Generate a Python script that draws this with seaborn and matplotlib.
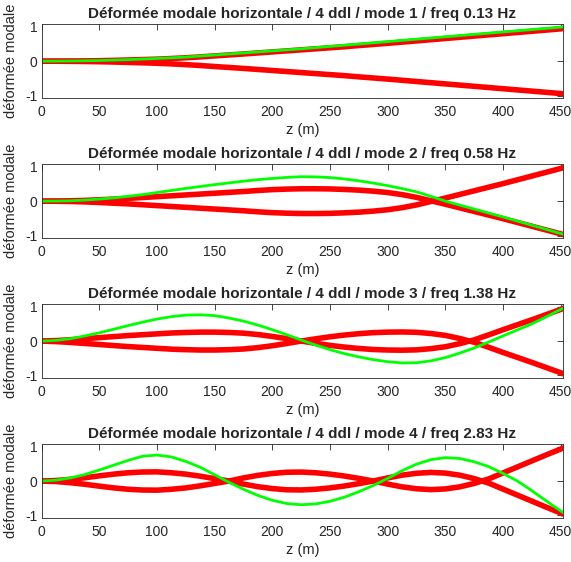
import numpy as np
import pandas as pd
import seaborn as sns
import matplotlib.pyplot as plt

# Déformées modales (z en m, pas de 12.5 m)
z = [0, 12.5, 25, 37.5, 50, 62.5, 75, 87.5, 100, 112.5, 125, 137.5, 150, 162.5, 175, 187.5,
     200, 212.5, 225, 237.5, 250, 262.5, 275, 287.5, 300, 312.5, 325, 337.5, 350, 362.5,
     375, 387.5, 400, 412.5, 425, 437.5, 450, 452]

freqs = ['0.13', '0.58', '1.38', '2.83']

# mode 1
green1 = [0, 0.002, 0.006, 0.012, 0.02, 0.032, 0.045, 0.062, 0.08, 0.10, 0.12, 0.15, 0.18, 0.21,
          0.24, 0.27, 0.30, 0.33, 0.36, 0.395, 0.43, 0.465, 0.50, 0.535, 0.57, 0.605, 0.64, 0.675,
          0.71, 0.745, 0.78, 0.815, 0.85, 0.885, 0.92, 0.955, 0.99, 1.0]
red1_up = [0, 0.001, 0.004, 0.009, 0.015, 0.024, 0.035, 0.047, 0.06, 0.078, 0.10, 0.125, 0.155,
           0.182, 0.21, 0.24, 0.27, 0.30, 0.33, 0.36, 0.39, 0.42, 0.455, 0.487, 0.52, 0.555, 0.59,
           0.625, 0.66, 0.695, 0.73, 0.765, 0.80, 0.835, 0.87, 0.905, 0.94, 0.95]
red1_dn = [0, -0.001, -0.004, -0.009, -0.015, -0.024, -0.035, -0.047, -0.06, -0.078, -0.10, -0.125,
           -0.155, -0.182, -0.21, -0.24, -0.27, -0.30, -0.33, -0.36, -0.39, -0.42, -0.455, -0.487,
           -0.52, -0.555, -0.59, -0.625, -0.66, -0.695, -0.73, -0.765, -0.80, -0.835, -0.87,
           -0.905, -0.94, -0.95]

# mode 2
green2 = [0, 0.002, 0.01, 0.03, 0.06, 0.095, 0.14, 0.19, 0.25, 0.31, 0.37, 0.425, 0.48, 0.53,
          0.58, 0.625, 0.66, 0.69, 0.71, 0.705, 0.685, 0.645, 0.59, 0.525, 0.45, 0.365, 0.27,
          0.14, 0.0, -0.115, -0.23, -0.345, -0.46, -0.58, -0.70, -0.82, -0.94, -0.96]
red2_a = [0, -0.003, -0.01, -0.022, -0.04, -0.06, -0.08, -0.105, -0.13, -0.155, -0.18, -0.205,
          -0.23, -0.255, -0.28, -0.31, -0.335, -0.35, -0.36, -0.36, -0.355, -0.34, -0.32, -0.29,
          -0.25, -0.19, -0.11, -0.01, 0.09, 0.195, 0.30, 0.405, 0.51, 0.62, 0.73, 0.84, 0.95, 0.97]
red2_b = [0, 0.003, 0.01, 0.022, 0.04, 0.06, 0.08, 0.105, 0.13, 0.155, 0.18, 0.205, 0.23, 0.255,
          0.28, 0.31, 0.335, 0.35, 0.36, 0.36, 0.355, 0.34, 0.32, 0.29, 0.25, 0.19, 0.11, 0.01,
          -0.09, -0.195, -0.30, -0.405, -0.51, -0.62, -0.73, -0.84, -0.95, -0.97]

# mode 3
green3 = [0, 0.02, 0.07, 0.15, 0.24, 0.345, 0.45, 0.55, 0.64, 0.71, 0.755, 0.765, 0.74, 0.67,
          0.58, 0.465, 0.33, 0.185, 0.03, -0.115, -0.25, -0.365, -0.46, -0.54, -0.60, -0.635,
          -0.63, -0.575, -0.48, -0.35, -0.20, -0.03, 0.15, 0.325, 0.50, 0.705, 0.92, 0.95]
red3_a = [0, 0.015, 0.04, 0.07, 0.10, 0.13, 0.16, 0.185, 0.21, 0.235, 0.25, 0.26, 0.26, 0.25,
          0.23, 0.19, 0.135, 0.07, 0.0, -0.065, -0.125, -0.175, -0.215, -0.245, -0.26, -0.265,
          -0.255, -0.22, -0.165, -0.075, 0.035, 0.18, 0.33, 0.475, 0.62, 0.77, 0.92, 0.95]
red3_b = [0, -0.015, -0.04, -0.07, -0.10, -0.13, -0.16, -0.185, -0.21, -0.235, -0.25, -0.26,
          -0.26, -0.25, -0.23, -0.19, -0.135, -0.07, 0.0, 0.065, 0.125, 0.175, 0.215, 0.245, 0.26,
          0.265, 0.255, 0.22, 0.165, 0.075, -0.035, -0.18, -0.33, -0.475, -0.62, -0.77, -0.92, -0.95]

# mode 4
green4 = [0, 0.025, 0.09, 0.19, 0.32, 0.46, 0.60, 0.72, 0.755, 0.70, 0.57, 0.40, 0.18, -0.04,
          -0.24, -0.42, -0.56, -0.655, -0.69, -0.667, -0.59, -0.47, -0.31, -0.13, 0.076, 0.30,
          0.49, 0.62, 0.68, 0.655, 0.56, 0.42, 0.22, 0.0, -0.28, -0.58, -0.87, -0.92]
red4_a = [0, -0.015, -0.05, -0.095, -0.15, -0.20, -0.24, -0.262, -0.266, -0.24, -0.20, -0.14,
          -0.07, 0.0, 0.09, 0.165, 0.22, 0.255, 0.26, 0.24, 0.20, 0.145, 0.077, 0.0, -0.09, -0.17,
          -0.225, -0.25, -0.23, -0.17, -0.07, 0.06, 0.235, 0.41, 0.585, 0.76, 0.93, 0.96]
red4_b = [0, 0.015, 0.05, 0.095, 0.15, 0.20, 0.24, 0.262, 0.266, 0.24, 0.20, 0.14, 0.07, 0.0,
          -0.09, -0.165, -0.22, -0.255, -0.26, -0.24, -0.20, -0.145, -0.077, 0.0, 0.09, 0.17,
          0.225, 0.25, 0.23, 0.17, 0.07, -0.06, -0.235, -0.41, -0.585, -0.76, -0.93, -0.96]

modes = [
    (green1, red1_up, red1_dn),
    (green2, red2_a, red2_b),
    (green3, red3_a, red3_b),
    (green4, red4_a, red4_b),
]

sns.set_style('white')
plt.rcParams['font.family'] = ['Liberation Sans', 'DejaVu Sans']
plt.rcParams['axes.unicode_minus'] = False

fig = plt.figure(figsize=(5.71, 5.62), dpi=100)
bottoms = [0.825, 0.576, 0.327, 0.078]
gris = '#262626'

for i, (g, ra, rb) in enumerate(modes):
    ax = fig.add_axes([0.073, bottoms[i], 0.913, 0.1322])
    sns.lineplot(x=z, y=ra, color='#ff0000', linewidth=4.0, ax=ax)
    sns.lineplot(x=z, y=rb, color='#ff0000', linewidth=4.0, ax=ax)
    sns.lineplot(x=z, y=g, color='#00ff00', linewidth=2.0, ax=ax)
    ax.set_xlim(0, 452)
    ax.set_ylim(-1.08, 1.08)
    ax.set_xticks(range(0, 451, 50))
    ax.set_yticks([-1, 0, 1])
    ax.tick_params(direction='in', top=True, right=True, length=4, width=0.6,
                   labelsize=10, color=gris, labelcolor=gris)
    ax.tick_params(axis='x', pad=5)
    ax.tick_params(axis='y', pad=3)
    for s in ax.spines.values():
        s.set_color(gris)
        s.set_linewidth(0.6)
    ax.set_title(f'Déformée modale horizontale / 4 ddl / mode {i + 1} / freq {freqs[i]} Hz',
                 fontsize=11, fontweight='bold', pad=4)
    ax.set_xlabel('z (m)', fontsize=10.5, color=gris, labelpad=3)
    ax.set_ylabel('déformée modale', fontsize=10.5, color=gris)
    ax.yaxis.set_label_coords(-0.046, 0.5)

fig.savefig('out.png', dpi=100)
